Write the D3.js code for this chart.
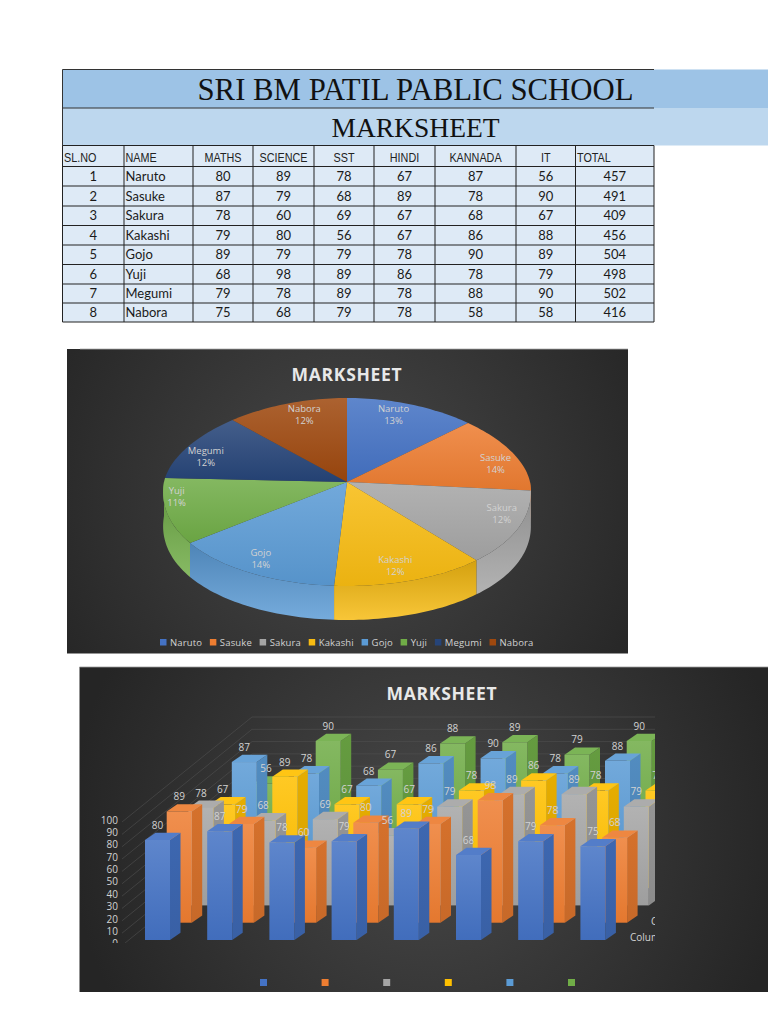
<!DOCTYPE html>
<html><head><meta charset="utf-8"><title>Marksheet</title>
<script src="https://cdn.jsdelivr.net/npm/d3@7/dist/d3.min.js"></script>
<style>html,body{margin:0;padding:0;background:#fff}svg{display:block}</style></head>
<body><svg id="c" width="768" height="1024" viewBox="0 0 768 1024"></svg>
<script>
const schoolTitle = "SRI BM PATIL PABLIC SCHOOL";
const sheetTitle = "MARKSHEET";
const headers = ["SL.NO","NAME","MATHS","SCIENCE","SST","HINDI","KANNADA","IT","TOTAL"];
const names = ["Naruto","Sasuke","Sakura","Kakashi","Gojo","Yuji","Megumi","Nabora"];
const maths = [80,87,78,79,89,68,79,75];
const science = [89,79,60,80,79,98,78,68];
const sst = [78,68,69,56,79,89,89,79];
const hindi = [67,89,67,67,78,86,78,78];
const kannada = [87,78,68,86,90,78,88,58];
const it = [56,90,67,88,89,79,90,58];
const totals = [457,491,409,456,504,498,502,416];
const yTicks = [0,10,20,30,40,50,60,70,80,90,100];
const pieColors = ["#4472c4","#ed7d31","#a5a5a5","#f7bb12","#5b9bd5","#70ad47","#264478","#9e480e"];
const barColors = ["#4472c4","#ed7d31","#a5a5a5","#ffc000","#5b9bd5","#70ad47"];
const barSeries = [maths,science,sst,hindi,kannada,it];
const axisCaption = "Column1";

const svg = d3.select("#c");
const defs = svg.append("defs");
const SERIF = "'Liberation Serif',serif", NARROW = "'Liberation Sans',Arial,sans-serif", BODY = "Lato,sans-serif", CHART = "'Open Sans',sans-serif";
const INK = "#d2d2d2";

function vgrad(id, c0, c1){
  const g = defs.append("linearGradient").attr("id",id).attr("x1",0).attr("y1",0).attr("x2",0).attr("y2",1);
  g.append("stop").attr("offset",0).attr("stop-color",c0);
  g.append("stop").attr("offset",1).attr("stop-color",c1);
  return `url(#${id})`;
}
function rgrad(id, cx, cy, r){
  const g = defs.append("radialGradient").attr("id",id).attr("gradientUnits","userSpaceOnUse")
    .attr("cx",cx).attr("cy",cy).attr("r",r);
  g.append("stop").attr("offset",0).attr("stop-color","#484848");
  g.append("stop").attr("offset",1).attr("stop-color","#252525");
  return `url(#${id})`;
}
const mix = (a,b,t)=>d3.interpolateRgb(a,b)(t);

/* ---------- table ---------- */
const colX = [62.5,124,193,253,314,374,435,516,575.5,654];
const rowY = [145.5,166.5,186,206,225.5,245,264.5,284,303,322];
const T = svg.append("g");
T.append("rect").attr("x",62.5).attr("y",69.5).attr("width",705.5).attr("height",38.5).attr("fill","#9dc3e6");
T.append("rect").attr("x",62.5).attr("y",108).attr("width",705.5).attr("height",37.5).attr("fill","#bdd7ee");
T.append("rect").attr("x",62.5).attr("y",145.5).attr("width",591.5).attr("height",176.5).attr("fill","#deeaf6");
T.selectAll("line.h").data([69.5,108,145.5]).join("line").attr("class","h").attr("x1",62.5).attr("x2",654)
  .attr("y1",d=>d).attr("y2",d=>d).attr("stroke","#333").attr("stroke-width",1);
T.selectAll("line.r").data(rowY).join("line").attr("class","r").attr("x1",62.5).attr("x2",654)
  .attr("y1",d=>d).attr("y2",d=>d).attr("stroke","#222").attr("stroke-width",1);
T.selectAll("line.c").data(colX).join("line").attr("class","c").attr("y1",145.5).attr("y2",322)
  .attr("x1",d=>d).attr("x2",d=>d).attr("stroke","#222").attr("stroke-width",1);
T.append("line").attr("x1",62.5).attr("x2",62.5).attr("y1",69.5).attr("y2",146).attr("stroke","#333");
T.append("text").text(schoolTitle).attr("x",415.5).attr("y",100).attr("text-anchor","middle")
  .attr("font-family",SERIF).attr("font-size",31).attr("fill","#111")
  .attr("textLength",436).attr("lengthAdjust","spacingAndGlyphs");
T.append("text").text(sheetTitle).attr("x",415.5).attr("y",137).attr("text-anchor","middle")
  .attr("font-family",SERIF).attr("font-size",27.5).attr("fill","#111");
const cx = i=>(colX[i]+colX[i+1])/2;
headers.forEach((h,i)=>{
  const left = i<2||i===8;
  const t = T.append("text").text(h).attr("y",162).attr("font-family",NARROW).attr("font-size",13.5).attr("fill","#222")
    .attr("x",left?colX[i]+1.5:cx(i)).attr("text-anchor",left?"start":"middle");
  t.attr("textLength",t.node().getComputedTextLength()*0.8).attr("lengthAdjust","spacingAndGlyphs");
});
names.forEach((n,r)=>{
  const cells = [r+1,n,maths[r],science[r],sst[r],hindi[r],kannada[r],it[r],totals[r]];
  cells.forEach((v,i)=>{
    T.append("text").text(v).attr("y",(rowY[r+1]+rowY[r+2])/2+4.5).attr("font-family",BODY).attr("font-size",13)
      .attr("fill","#1a1a1a").attr("x",i===1?colX[1]+1.5:cx(i)).attr("text-anchor",i===1?"start":"middle");
  });
});

/* ---------- pie ---------- */
const P = svg.append("g");
P.append("rect").attr("x",67).attr("y",349).attr("width",561).attr("height",304.5).attr("fill",rgrad("p1",347,495,340));
P.append("line").attr("x1",80).attr("x2",628).attr("y1",349).attr("y2",349).attr("stroke","#aaa").attr("stroke-width",.8);
P.append("text").text(sheetTitle).attr("x",347).attr("y",381).attr("text-anchor","middle")
  .attr("font-family",CHART).attr("font-weight",700).attr("font-size",17.5).attr("letter-spacing",.7).attr("fill","#e8e8e8");

const pc = {x:347,y:482,rx:183,up:84,down:104,depth:34,persp:0.1};
const px = a=>pc.x+pc.rx*Math.sin(a)*(1-pc.persp*Math.cos(a));
const py = a=>{const c=Math.cos(a);return pc.y-(c>0?pc.up:pc.down)*c;};
const arcs = d3.pie().sort(null)(maths);
const samples = (a0,a1)=>{const n=Math.max(2,Math.ceil((a1-a0)*40));return d3.range(n+1).map(k=>a0+(a1-a0)*k/n);};
const line = d3.line();
// side walls
const lo = Math.PI/2, hi = Math.PI*1.5;
arcs.forEach((d,i)=>{
  const a0=Math.max(d.startAngle,lo), a1=Math.min(d.endAngle,hi);
  if(a1<=a0) return;
  const top=samples(a0,a1).map(a=>[px(a),py(a)]);
  const bot=top.slice().reverse().map(p=>[p[0],p[1]+pc.depth]);
  const col=pieColors[i];
  P.append("path").attr("d",line(top.concat(bot))+"Z")
    .attr("fill",vgrad("ps"+i,mix(col,"#000",0.14),mix(col,"#fff",0.16)));
});
// top faces
arcs.forEach((d,i)=>{
  const pts=[[pc.x,pc.y]].concat(samples(d.startAngle,d.endAngle).map(a=>[px(a),py(a)]));
  const col=pieColors[i];
  P.append("path").attr("d",line(pts)+"Z")
    .attr("fill",vgrad("pt"+i,mix(col,"#fff",0.14),mix(col,"#000",0.05)));
});
// inside-end labels
arcs.forEach((d,i)=>{
  const m=(d.startAngle+d.endAngle)/2, right=Math.sin(m)>0, upper=Math.cos(m)>0;
  const x=px(m)+(upper?(right?-17.5:17.5):(right?-16:10)), y=py(m)+(upper?10.5:-15);
  const pct=Math.round(maths[i]/d3.sum(maths)*100)+"%";
  const t=P.append("text").attr("text-anchor","middle").attr("font-family",CHART).attr("font-size",9.5).attr("fill",INK);
  t.append("tspan").attr("x",x).attr("y",y-2.5).text(names[i]);
  t.append("tspan").attr("x",x).attr("y",y+9.5).text(pct);
});
// legend
const lg=P.append("g");
let lx=160;
names.forEach((n,i)=>{
  lg.append("rect").attr("x",lx).attr("y",639).attr("width",6.5).attr("height",6.5).attr("fill",pieColors[i]);
  const t=lg.append("text").text(n).attr("x",lx+10).attr("y",646).attr("font-family",CHART).attr("font-size",9.5)
    .attr("letter-spacing",.15).attr("fill",INK);
  lx+=10+t.node().getComputedTextLength()+7.7;
});

/* ---------- 3D columns ---------- */
const B = svg.append("g");
B.append("rect").attr("x",79.5).attr("y",667).attr("width",688.5).attr("height",325).attr("fill",rgrad("p2",430,830,360));
B.append("line").attr("x1",79.5).attr("x2",768).attr("y1",667).attr("y2",667).attr("stroke","#999").attr("stroke-width",.8);
B.append("text").text(sheetTitle).attr("x",442).attr("y",699.5).attr("text-anchor","middle")
  .attr("font-family",CHART).attr("font-weight",700).attr("font-size",17.5).attr("letter-spacing",.7).attr("fill","#e8e8e8");
defs.append("clipPath").attr("id","plot").append("rect").attr("x",80).attr("y",705).attr("width",575).attr("height",238);

const plot = B.append("g").attr("clip-path","url(#plot)");
const xCat = d3.scaleLinear().domain([0,7]).range([145,580.4]);
const dxS = d3.scaleLinear().domain([0,5]).range([0,108.5]);
const dyS = d3.scaleLinear().domain([0,5]).range([0,-86.5]);
const hV = d3.scaleLinear().domain([0,100]).range([0,125]);
const base = 940, barW = 25, sx = 10.5, sy = -7.3;
const axisY = d3.scaleLinear().domain([0,100]).range([943.5,820]);
const wallY = d3.scaleLinear().domain([0,100]).range([840,717]);

// grid
yTicks.forEach(v=>{
  plot.append("path").attr("d",line([[122,axisY(v)+2],[252,wallY(v)],[655,wallY(v)]]))
    .attr("fill","none").attr("stroke","#505050").attr("stroke-width",.6);
});
const yAxis = d3.axisLeft(axisY).tickValues(yTicks).tickSize(0).tickPadding(0);
const ax = plot.append("g").attr("transform","translate(118,0)").call(yAxis);
ax.select(".domain").remove();
ax.selectAll("text").attr("font-family",CHART).attr("font-size",10).attr("fill",INK);

// bars, back series first
for(let s=barSeries.length-1;s>=0;s--){
  const col=barColors[s];
  const front=vgrad("bf"+s,mix(col,"#fff",0.14),mix(col,"#000",0.04));
  const side=vgrad("bs"+s,mix(col,"#000",0.1),mix(col,"#000",0.16));
  const top=mix(col,"#fff",0.08);
  barSeries[s].forEach((v,i)=>{
    const x0=xCat(i)+dxS(s), y0=base+dyS(s), h=hV(v), x1=x0+barW, yt=y0-h;
    plot.append("path").attr("d",line([[x1,yt],[x1+sx,yt+sy],[x1+sx,y0+sy],[x1,y0]])+"Z").attr("fill",side);
    plot.append("path").attr("d",line([[x0,yt],[x0+sx,yt+sy],[x1+sx,yt+sy],[x1,yt]])+"Z").attr("fill",top);
    plot.append("rect").attr("x",x0).attr("y",yt).attr("width",barW).attr("height",h).attr("fill",front);
  });
}
// value labels above everything
barSeries.forEach((vals,s)=>vals.forEach((v,i)=>{
  plot.append("text").text(v).attr("x",xCat(i)+dxS(s)+barW/2).attr("y",base+dyS(s)-hV(v)+sy-4)
    .attr("text-anchor","middle").attr("font-family",CHART).attr("font-size",10).attr("fill",INK);
}));
// captions clipped at the plot's right edge
plot.append("text").text(axisCaption).attr("x",651).attr("y",925).attr("font-family",CHART).attr("font-size",10).attr("fill",INK);
plot.append("text").text(axisCaption).attr("x",630).attr("y",941).attr("font-family",CHART).attr("font-size",10).attr("fill",INK);
// legend swatches
const swatchX = d3.scaleLinear().domain([0,5]).range([260,568]);
barColors.forEach((c,i)=>{
  B.append("rect").attr("x",swatchX(i)).attr("y",979).attr("width",7).attr("height",7).attr("fill",c);
});
</script></body></html>
